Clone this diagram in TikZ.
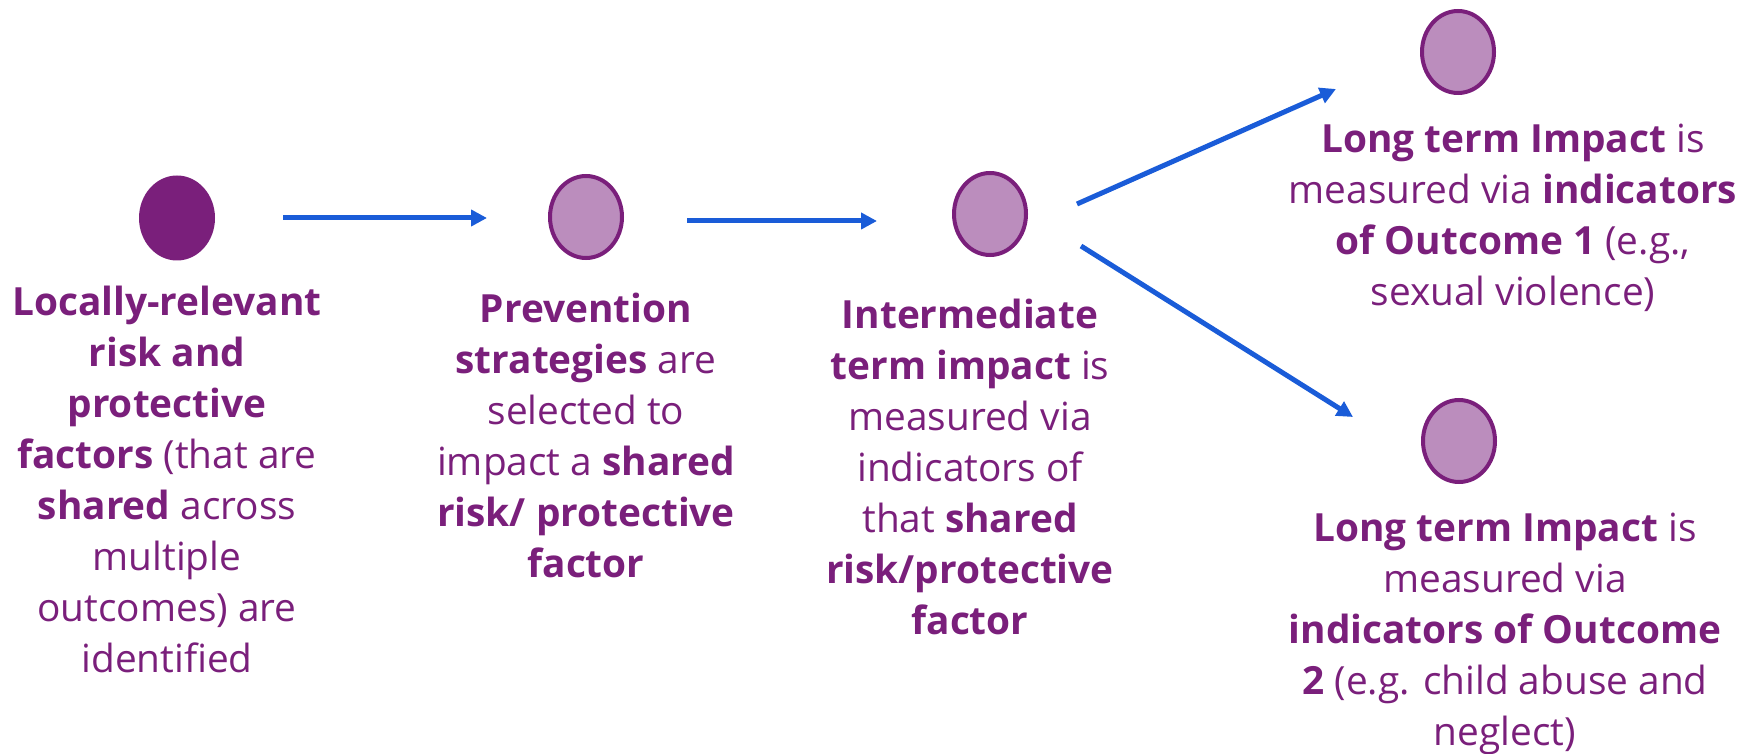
\documentclass[tikz,border=0pt]{standalone}
\usepackage{fontspec}
\setmainfont{Open Sans}
\usetikzlibrary{shapes.geometric,arrows.meta}
\definecolor{dpurple}{HTML}{7A1F7B}
\definecolor{lpurple}{HTML}{BB8DBD}
\definecolor{arrblue}{HTML}{1A5CD8}
\begin{document}
\begin{tikzpicture}[x=0.5pt,y=-0.5pt,
  dot/.style={ellipse,draw=dpurple,fill=lpurple,line width=2pt,minimum width=36pt,minimum height=41pt,inner sep=0pt},
  darkdot/.style={ellipse,fill=dpurple,minimum width=38pt,minimum height=42.5pt,inner sep=0pt},
  lbl/.style={anchor=north,align=center,inner sep=0pt,text=dpurple,font=\fontsize{19.4}{25.5}\selectfont},
  arr/.style={draw=arrblue,line width=2.5pt,-{Triangle[length=8pt,width=8pt]}}]
\useasboundingbox (0,0) rectangle (1756,754);
\node[darkdot] (c1) at (177,218) {};
\node[dot] (c2) at (586,217) {};
\node[dot] (c3) at (990,214) {};
\node[dot] (c4) at (1458,52) {};
\node[dot] (c5) at (1459,441) {};
\node[lbl] (t1) at (167,286) {\textbf{Locally-relevant}\\\textbf{risk and}\\\textbf{protective}\\\textbf{factors} (that are\\\textbf{shared} across\\multiple\\outcomes) are\\identified};
\node[lbl] (t2) at (586,293) {\textbf{Prevention}\\\textbf{strategies} are\\selected to\\impact a \textbf{shared}\\\textbf{risk/ protective}\\\textbf{factor}};
\node[lbl] (t3) at (970,299) {\textbf{Intermediate}\\\textbf{term impact} is\\measured via\\indicators of\\that \textbf{shared}\\\textbf{risk/protective}\\\textbf{factor}};
\node[lbl] (t4) at (1513,124) {\textbf{Long term Impact} is\\measured via \textbf{indicators}\\\textbf{of Outcome 1} (e.g.,\\sexual violence)};
\node[lbl] (t5) at (1505,513) {\textbf{Long term Impact} is\\measured via\\\textbf{indicators of Outcome}\\\textbf{2} (e.g. child abuse and\\neglect)};
\draw[arr] ([shift={(106,0)}]c1.center) -- ([shift={(-99,1)}]c2.center);
\draw[arr] ([shift={(101,4)}]c2.center) -- ([shift={(-113,7)}]c3.center);
\draw[arr] ([shift={(87,-10)}]c3.center) -- ([shift={(-122,37)}]c4.center);
\draw[arr] ([shift={(91,32)}]c3.center) -- ([shift={(-106,-24)}]c5.center);
\end{tikzpicture}
\end{document}
